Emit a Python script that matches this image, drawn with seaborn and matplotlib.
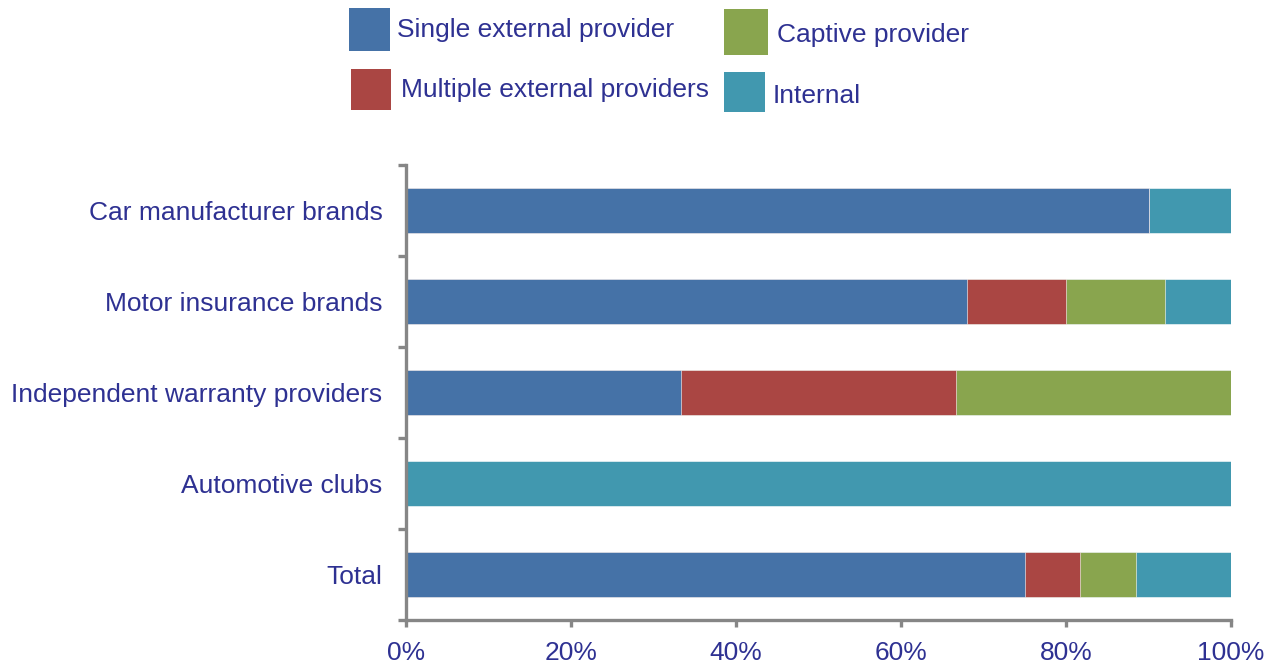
import numpy as np
import matplotlib.pyplot as plt
import pandas as pd
import seaborn as sns

sns.set_style('white')
plt.rcParams['font.family'] = ['Liberation Sans', 'DejaVu Sans']

# data (percent of each channel)
categories = ['Car manufacturer brands', 'Motor insurance brands',
              'Independent warranty providers', 'Automotive clubs', 'Total']
series = ['Single external provider', 'Multiple external providers',
          'Captive provider', 'Internal']
single_ext = [90, 68, 33.3, 0, 75]
multiple_ext = [0, 12, 33.4, 0, 6.7]
captive = [0, 12, 33.3, 0, 6.8]
internal = [10, 8, 0, 100, 11.5]
xticks = [0, 20, 40, 60, 80, 100]

colors = ['#4572A7', '#AA4643', '#89A54E', '#4198AF']
txt_col = '#2E3192'
spine_col = '#868686'

W, H = 1277, 665

df = pd.DataFrame({'cat': categories, series[0]: single_ext,
                   series[1]: multiple_ext, series[2]: captive,
                   series[3]: internal})
cum = df[series].cumsum(axis=1)

fig = plt.figure(figsize=(W/100, H/100), dpi=100)
ax = fig.add_axes([406/W, 1-620/H, (1231-406)/W, (620-165)/H])

# stacked: draw cumulative totals back to front
for i in range(len(series)-1, -1, -1):
    sns.barplot(x=cum[series[i]], y=df['cat'], color=colors[i], orient='h',
                width=0.5, ax=ax, saturation=1,
                edgecolor='white', linewidth=0.4)

ax.set_xlim(0, 100)
ax.set_ylim(4.5, -0.5)
ax.set_xlabel('')
ax.set_ylabel('')
ax.set_xticks(xticks)
ax.set_xticklabels([f'{t}%' for t in xticks])

for s in ['top', 'right']:
    ax.spines[s].set_visible(False)
for s in ['left', 'bottom']:
    ax.spines[s].set_color(spine_col)
    ax.spines[s].set_linewidth(2.4)

ax.set_yticks(np.arange(-0.5, 5, 1), minor=True)
ax.tick_params(axis='y', which='major', length=0, pad=17, labelsize=19,
               labelcolor=txt_col)
ax.tick_params(axis='y', which='minor', length=6, width=2.4, color=spine_col,
               direction='out', left=True)
ax.tick_params(axis='x', which='major', length=5, width=2.4, color=spine_col,
               direction='out', pad=10, labelsize=19, labelcolor=txt_col,
               bottom=True)

# legend drawn by hand (box x0, y0, x1, y1, text x, baseline) in pixels
leg_boxes = [(349, 8, 390, 51, 397, 37),
             (351, 69, 391, 110, 401, 97),
             (724, 9, 768, 55, 777, 42),
             (724, 72, 765, 112, 773, 103)]
for (x0, y0, x1, y1, tx, ty), lab, c in zip(leg_boxes, series, colors):
    fig.add_artist(plt.Rectangle((x0/W, 1-y1/H), (x1-x0)/W, (y1-y0)/H,
                                 transform=fig.transFigure, color=c, lw=0))
    fig.text(tx/W, 1-ty/H, lab, fontsize=19, color=txt_col,
             ha='left', va='baseline')

fig.savefig('out.png', dpi=100)
